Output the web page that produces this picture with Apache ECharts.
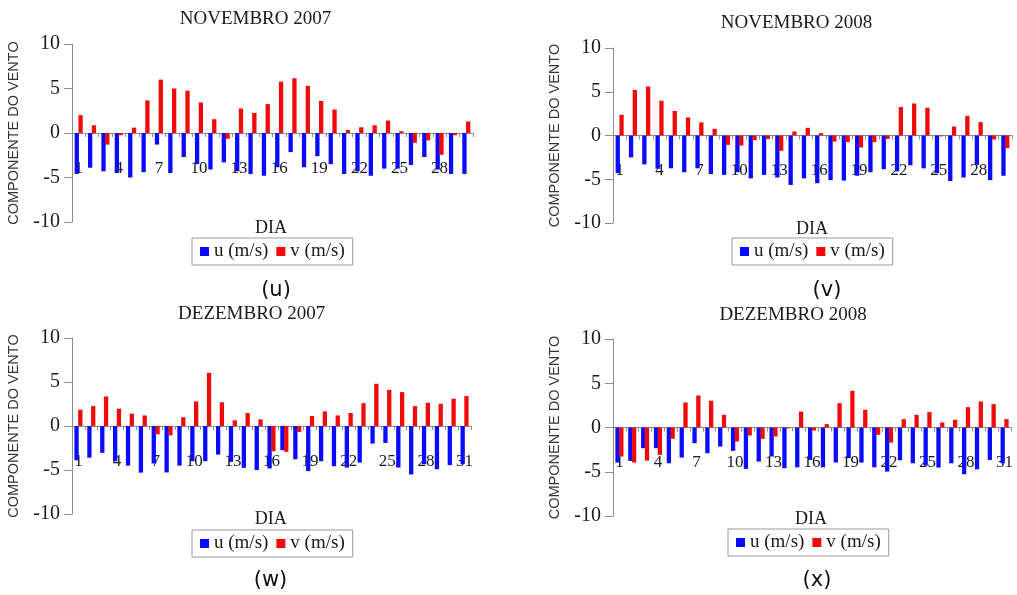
<!DOCTYPE html>
<html>
<head>
<meta charset="utf-8">
<script src="https://cdn.jsdelivr.net/npm/echarts@6/dist/echarts.min.js"></script>
<style>
html,body{margin:0;padding:0;background:#fff;}
#chart{width:1017px;height:595px;}
</style>
</head>
<body>
<div id="chart"></div>
<script>
// ---- Data ----
const daysNov = Array.from({length: 30}, (_, i) => String(i + 1));
const daysDec = Array.from({length: 31}, (_, i) => String(i + 1));

const yTicks = [-10, -5, 0, 5, 10];

// (u) Novembro 2007
const nov2007U = [-4.6, -3.9, -4.3, -4.5, -5.0, -4.4, -1.3, -4.5, -2.7, -3.5, -4.1, -3.3, -4.3, -4.6, -4.8,
                  -3.85, -2.15, -3.85, -2.6, -3.5, -4.6, -4.3, -4.8, -4.0, -4.0, -3.6, -2.7, -4.1, -4.6, -4.6];
const nov2007V = [2.0, 0.87, -1.3, -0.25, 0.6, 3.66, 6.0, 5.0, 4.75, 3.43, 1.55, -0.65, 2.75, 2.26, 3.25,
                  5.77, 6.15, 5.3, 3.6, 2.64, 0.34, 0.64, 0.87, 1.4, 0.19, -1.1, -0.83, -2.45, -0.25, 1.3];

// (v) Novembro 2008
const nov2008U = [-4.3, -2.5, -3.3, -3.8, -3.75, -4.2, -3.75, -4.4, -4.5, -4.2, -4.9, -4.5, -4.8, -5.65, -4.9,
                  -5.45, -5.1, -5.15, -4.6, -4.2, -3.85, -4.1, -3.4, -3.75, -4.3, -5.2, -4.8, -3.36, -5.1, -4.6];
const nov2008V = [2.37, 5.2, 5.6, 3.97, 2.8, 2.06, 1.5, 0.76, -1.07, -1.15, -0.53, -0.4, -1.75, 0.46, 0.88,
                  0.27, -0.69, -0.76, -1.37, -0.76, -0.4, 3.25, 3.66, 3.17, -0.1, 1.03, 2.25, 1.53, -0.46, -1.45];

// (w) Dezembro 2007
const dez2007U = [-3.9, -3.6, -3.05, -4.0, -4.5, -5.3, -4.26, -5.28, -4.5, -4.0, -4.0, -3.25, -4.08, -4.75, -5.0,
                  -4.83, -2.75, -3.77, -5.13, -4.0, -4.57, -4.72, -4.15, -2.0, -1.92, -4.72, -5.5, -4.34, -4.9, -4.45, -4.34];
const dez2007V = [1.85, 2.26, 3.36, 1.96, 1.4, 1.2, -0.94, -1.06, 1.0, 2.8, 6.04, 2.7, 0.64, 1.47, 0.75,
                  -2.87, -2.94, -0.68, 1.13, 1.66, 1.2, 1.47, 2.6, 4.8, 4.1, 3.85, 2.26, 2.64, 2.53, 3.1, 3.4];

// (x) Dezembro 2008
const dez2008U = [-3.96, -3.77, -2.34, -2.34, -4.04, -3.4, -1.77, -2.9, -2.15, -2.64, -4.68, -3.85, -3.28, -4.6, -4.5,
                  -3.66, -4.5, -3.96, -3.47, -3.96, -4.5, -4.98, -3.7, -4.04, -4.3, -4.53, -4.04, -5.28, -4.72, -3.66, -4.04];
const dez2008V = [-3.28, -3.96, -3.74, -3.1, -1.28, 2.83, 3.62, 3.02, 1.43, -1.58, -0.9, -1.28, -1.02, -0.1, 1.8,
                  -0.34, 0.38, 2.75, 4.15, 2.0, -0.83, -1.7, 0.94, 1.43, 1.74, 0.57, 0.87, 2.3, 2.94, 2.64, 0.94];

const seriesNames = ['u (m/s)', 'v (m/s)'];
const panelTitles = ['NOVEMBRO 2007', 'NOVEMBRO 2008', 'DEZEMBRO 2007', 'DEZEMBRO 2008'];
const panelLetters = ['(u)', '(v)', '(w)', '(x)'];
const xAxisTitle = 'DIA';
const yAxisTitle = 'COMPONENTE DO VENTO';

// ---- Layout ----
const panels = [
  {cats: daysNov, u: nov2007U, v: nov2007V,
   grid: {left: 72, top: 44, width: 401, height: 178},
   title: [255.5, 19], dia: [271, 228], legend: [192, 238], letter: [276, 291]},
  {cats: daysNov, u: nov2008U, v: nov2008V,
   grid: {left: 613, top: 48, width: 399, height: 175},
   title: [796.5, 23], dia: [812, 229], legend: [732, 238], letter: [827, 291]},
  {cats: daysDec, u: dez2007U, v: dez2007V,
   grid: {left: 72, top: 338, width: 399, height: 176},
   title: [251.7, 314], dia: [270.7, 519], legend: [192, 530], letter: [270.5, 581]},
  {cats: daysDec, u: dez2008U, v: dez2008V,
   grid: {left: 613, top: 339, width: 398, height: 177},
   title: [793, 315], dia: [811, 519.5], legend: [728, 529], letter: [817, 581]}
];

const serif = '"Liberation Serif", "Times New Roman", serif';
const sans = '"Liberation Sans", Arial, sans-serif';
const axisGray = '#8c8c8c';
const blue = '#0a0aff';
const red = '#f00a0a';

const grids = [], xAxes = [], yAxes = [], series = [], legends = [], graphics = [];

panels.forEach((p, i) => {
  grids.push(Object.assign({containLabel: false}, p.grid));
  // the value axis is symmetric (-10..10), so the category axis sits at mid-height (value 0)
  xAxes.push({
    type: 'category', gridIndex: i, data: p.cats, position: 'bottom',
    offset: -p.grid.height / 2,
    axisLine: {onZero: false, lineStyle: {color: axisGray, width: 1}},
    axisTick: {show: true, interval: 0, length: 4, lineStyle: {color: axisGray}},
    axisLabel: {interval: 2, margin: 27, fontFamily: serif, fontSize: 17, color: '#1a1a1a'},
    splitLine: {show: false}
  });
  yAxes.push({
    type: 'value', gridIndex: i, min: yTicks[0], max: yTicks[yTicks.length - 1], interval: 5,
    name: yAxisTitle, nameLocation: 'middle', nameGap: 51,
    nameTextStyle: {fontFamily: sans, fontSize: 14.5, color: '#333'},
    axisLine: {show: true, lineStyle: {color: axisGray, width: 1}},
    axisTick: {show: true, length: 8, lineStyle: {color: axisGray}},
    axisLabel: {margin: 12, fontFamily: serif, fontSize: 20, color: '#1a1a1a'},
    splitLine: {show: false}
  });
  series.push({
    name: seriesNames[0], type: 'bar', xAxisIndex: i, yAxisIndex: i, data: p.u,
    barWidth: 4.3, barGap: '-12%', itemStyle: {color: blue}, animation: false
  });
  series.push({
    name: seriesNames[1], type: 'bar', xAxisIndex: i, yAxisIndex: i, data: p.v,
    barWidth: 4.3, barGap: '-12%', itemStyle: {color: red}, animation: false
  });
  legends.push({
    data: seriesNames, left: p.legend[0], top: p.legend[1],
    orient: 'horizontal', icon: 'rect', itemWidth: 9, itemHeight: 9, itemGap: 8,
    padding: [4, 8], borderColor: '#9a9a9a', borderWidth: 1,
    selectedMode: false,
    textStyle: {fontFamily: serif, fontSize: 19, color: '#1a1a1a'}
  });
  graphics.push({type: 'text', x: p.title[0], y: p.title[1],
    style: {text: panelTitles[i], textAlign: 'center', textVerticalAlign: 'middle',
      font: '19px ' + serif, fill: '#1a1a1a'}});
  graphics.push({type: 'text', x: p.dia[0], y: p.dia[1],
    style: {text: xAxisTitle, textAlign: 'center', textVerticalAlign: 'middle',
      font: '18px ' + serif, fill: '#1a1a1a'}});
  graphics.push({type: 'text', x: p.letter[0], y: p.letter[1],
    style: {text: panelLetters[i], textAlign: 'center', textVerticalAlign: 'middle',
      font: '21px "DejaVu Sans", sans-serif', fill: '#111'}});
});

const chart = echarts.init(document.getElementById('chart'), null, {renderer: 'canvas'});
chart.setOption({
  backgroundColor: '#ffffff',
  animation: false,
  grid: grids,
  xAxis: xAxes,
  yAxis: yAxes,
  legend: legends,
  series: series,
  graphic: graphics
});
</script>
</body>
</html>
